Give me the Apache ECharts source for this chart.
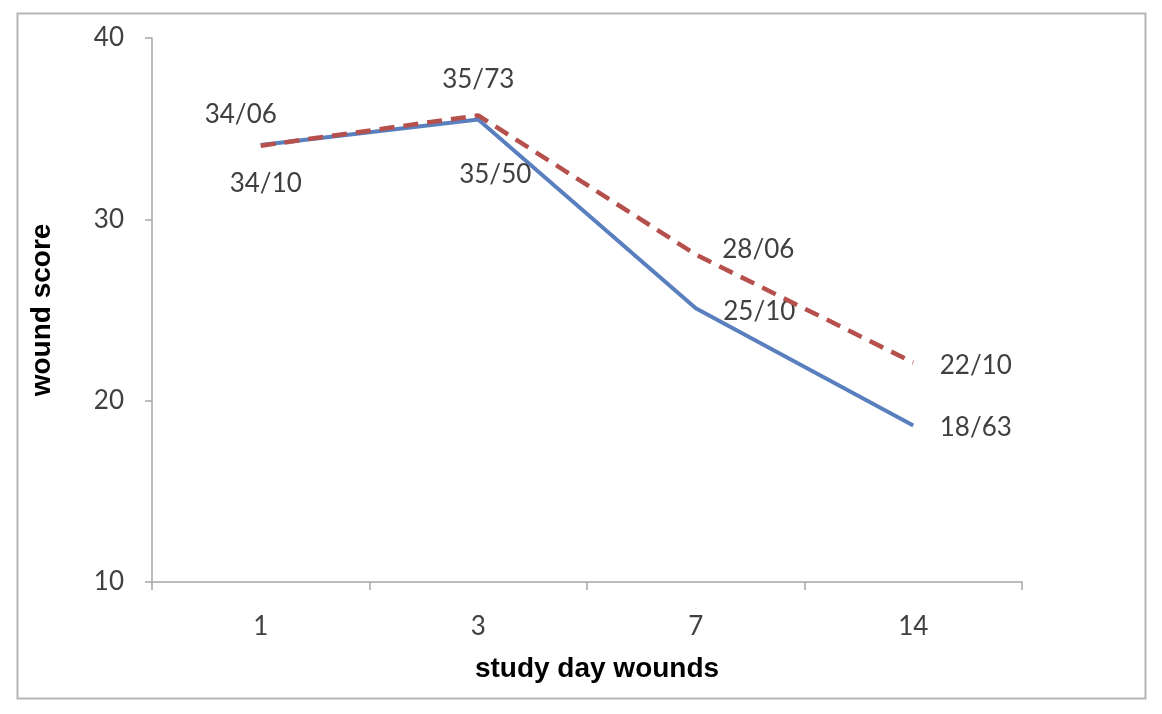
<!DOCTYPE html>
<html><head><meta charset="utf-8">
<script src="https://cdn.jsdelivr.net/npm/echarts@6/dist/echarts.min.js"></script>
<style>html,body{margin:0;padding:0;background:#fff}#c{width:1162px;height:714px}</style>
</head><body><div id="c"></div>
<script>
const categories = ['1', '3', '7', '14'];
const seriesA = [34.10, 35.50, 25.10, 18.63]; // blue solid
const seriesB = [34.06, 35.73, 28.06, 22.10]; // red dashed
const yTicks = [10, 20, 30, 40];

const fmt = v => v.toFixed(2).replace('.', '/');
const labelFont = {fontFamily: 'Lato, "Open Sans", sans-serif', fontSize: 26, color: '#404040'};

const posA = [
  {position: 'bottom', offset: [5, 20]},
  {position: 'bottom', offset: [17, 37]},
  {position: 'right', offset: [22, 3]},
  {position: 'right', offset: [21, 2]}
];
const posB = [
  {position: 'top', offset: [-20, -13]},
  {position: 'top', offset: [0, -17]},
  {position: 'right', offset: [21, -5]},
  {position: 'right', offset: [21, 3]}
];

const chart = echarts.init(document.getElementById('c'));
chart.setOption({
  animation: false,
  graphic: [{type: 'rect', shape: {x: 17.5, y: 13.5, width: 1128, height: 685}, style: {fill: 'none', stroke: '#b5b5b5', lineWidth: 2}}],
  grid: {left: 152, right: 140, top: 38, bottom: 132},
  xAxis: {
    type: 'category', data: categories, boundaryGap: true,
    name: 'study day wounds', nameLocation: 'middle', nameGap: 73,
    nameTextStyle: {fontFamily: 'Liberation Sans, Arial, sans-serif', fontWeight: 'bold', fontSize: 28, color: '#000', padding: [0, 0, 0, 20]},
    axisLine: {lineStyle: {color: '#a6a6a6', width: 1.5}},
    axisTick: {show: true, length: 8, lineStyle: {color: '#a6a6a6', width: 1.5}},
    axisLabel: {fontFamily: 'Lato, "Open Sans", sans-serif', fontSize: 26, color: '#404040', margin: 32}
  },
  yAxis: {
    type: 'value', min: 10, max: 40, interval: 10,
    name: 'wound score', nameLocation: 'middle', nameGap: 96,
    nameTextStyle: {fontFamily: 'Liberation Sans, Arial, sans-serif', fontWeight: 'bold', fontSize: 28, color: '#000'},
    axisLine: {show: true, lineStyle: {color: '#a6a6a6', width: 1.5}},
    axisTick: {show: true, length: 7, lineStyle: {color: '#a6a6a6', width: 1.5}},
    splitLine: {show: false},
    axisLabel: {fontFamily: 'Lato, "Open Sans", sans-serif', fontSize: 26, color: '#404040', margin: 28,
      formatter: v => yTicks.includes(v) ? String(v) : ''}
  },
  series: [
    {
      type: 'line', data: seriesA.map((v, i) => ({value: v, label: Object.assign({}, posA[i])})),
      symbol: 'circle', symbolSize: 1, showSymbol: true, itemStyle: {color: 'rgba(0,0,0,0)'},
      lineStyle: {color: '#5a7fbf', width: 4},
      label: Object.assign({show: true, formatter: p => fmt(p.value)}, labelFont), z: 2
    },
    {
      type: 'line', data: seriesB.map((v, i) => ({value: v, label: Object.assign({}, posB[i])})),
      symbol: 'circle', symbolSize: 1, showSymbol: true, itemStyle: {color: 'rgba(0,0,0,0)'},
      lineStyle: {color: '#b5504c', width: 4.5, type: [15, 9]},
      label: Object.assign({show: true, formatter: p => fmt(p.value)}, labelFont), z: 3
    }
  ]
});
</script></body></html>
